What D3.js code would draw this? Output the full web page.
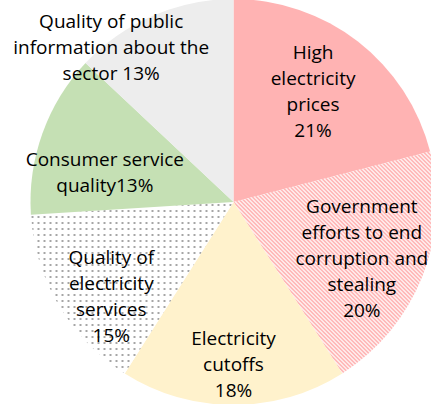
<!DOCTYPE html>
<html>
<head>
<meta charset="utf-8">
<script src="https://cdn.jsdelivr.net/npm/d3@7"></script>
<style>
  body { margin: 0; background: #fff; }
  svg text { font-family: "Open Sans", "Noto Sans", sans-serif; font-size: 19px; fill: #000; }
</style>
</head>
<body>
<div id="chart"></div>
<script>
(function() {

	// data
	var categories = [
		"High electricity prices",
		"Government efforts to end corruption and stealing",
		"Electricity cutoffs",
		"Quality of electricity services",
		"Consumer service quality",
		"Quality of public information about the sector"
	];
	var shares = [21, 20, 18, 15, 13, 13];
	var labelLines = [
		["High", "electricity", "prices", "21%"],
		["Government", "efforts to end", "corruption and", "stealing", "20%"],
		["Electricity", "cutoffs", "18%"],
		["Quality of", "electricity", "services", "15%"],
		["Consumer service", "quality13%"],
		["Quality of public", "information about the", "sector 13%"]
	];

	var WIDTH = 431, HEIGHT = 404;
	var cx = 233.5, cy = 202, R = 203;
	var LINE_H = 26;

	var fills = ["#FFB3B3", "url(#hatch)", "#FFF2CC", "url(#dots)", "#C5E0B4", "#EDEDED"];
	// label placement: fraction of radius, angle nudge (deg)
	var labelPlace = [[0.67, -2], [0.69, 2], [0.80, 0], [0.76, -7], [0.65, -7], [0.97, -15]];

	var svg = d3.select("#chart").append("svg")
		.attr("width", WIDTH)
		.attr("height", HEIGHT);

	var defs = svg.append("defs");

	var hatch = defs.append("pattern")
		.attr("id", "hatch")
		.attr("patternUnits", "userSpaceOnUse")
		.attr("width", 4)
		.attr("height", 4);
	hatch.append("rect").attr("width", 4).attr("height", 4).attr("fill", "#fff");
	hatch.append("path")
		.attr("d", "M-1,-1 L5,5 M-1,3 L1,5 M3,-1 L5,1")
		.attr("stroke", "#FFA3A3")
		.attr("stroke-width", 1.4);

	var dots = defs.append("pattern")
		.attr("id", "dots")
		.attr("patternUnits", "userSpaceOnUse")
		.attr("width", 6)
		.attr("height", 6);
	dots.append("rect").attr("width", 6).attr("height", 6).attr("fill", "#fff");
	dots.append("rect").attr("x", 2).attr("y", 2).attr("width", 2).attr("height", 2).attr("fill", "#A6A6A6");

	var pie = d3.pie()
		.sort(null)
		.value(d => d);

	var arc = d3.arc()
		.innerRadius(0)
		.outerRadius(R);

	var g = svg.append("g")
		.attr("transform", "translate(" + cx + "," + cy + ")");

	var slices = pie(shares);

	g.selectAll("path.slice")
		.data(slices)
		.enter()
		.append("path")
			.attr("class", "slice")
			.attr("d", arc)
			.attr("fill", (d, i) => fills[i]);

	var labels = g.selectAll("text.lbl")
		.data(slices)
		.enter()
		.append("text")
			.attr("class", "lbl")
			.attr("text-anchor", "middle")
			.attr("transform", function(d, i) {
				var a = (d.startAngle + d.endAngle) / 2 + labelPlace[i][1] * Math.PI / 180;
				var r = R * labelPlace[i][0];
				return "translate(" + (r * Math.sin(a)) + "," + (-r * Math.cos(a)) + ")";
			});

	labels.each(function(d, i) {
		var lines = labelLines[i];
		var t = d3.select(this);
		lines.forEach(function(line, j) {
			t.append("tspan")
				.attr("x", 0)
				.attr("y", (j - (lines.length - 1) / 2) * LINE_H)
				.attr("dy", "0.35em")
				.text(line);
		});
	});

}) ();
</script>
</body>
</html>
